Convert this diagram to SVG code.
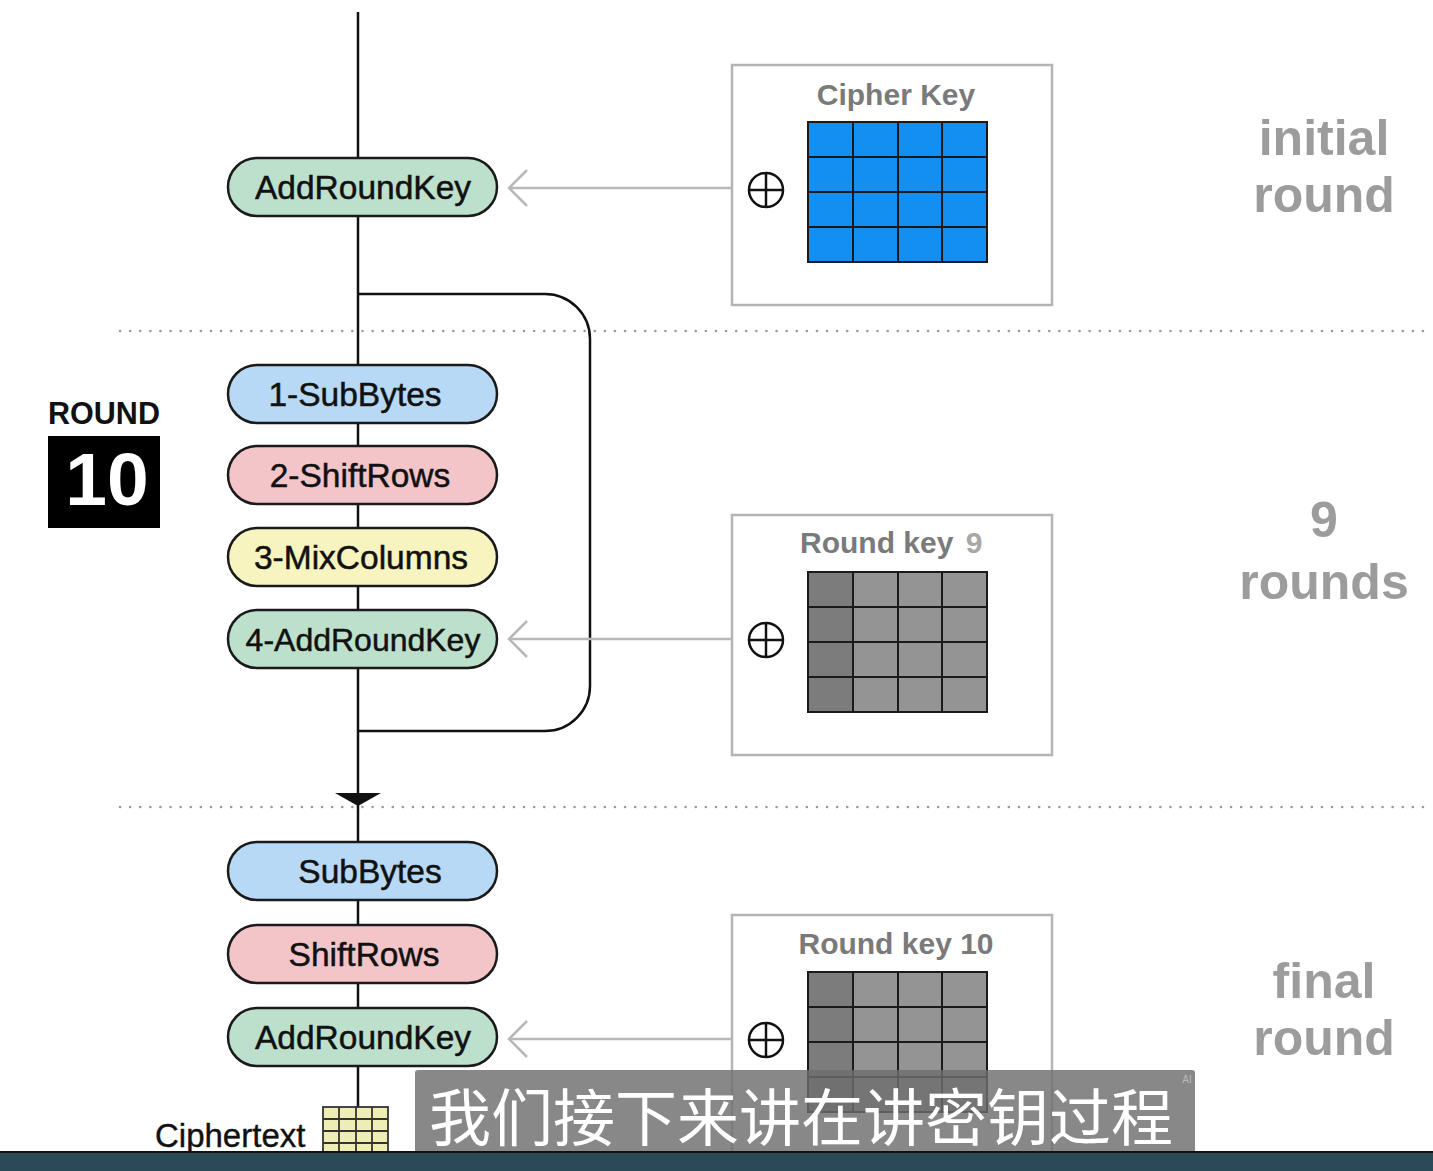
<svg xmlns="http://www.w3.org/2000/svg" width="1433" height="1171" viewBox="0 0 1433 1171">
<style>
.pill{stroke:#1a1a1a;stroke-width:2.5}
.pt{font-family:"Liberation Sans",Arial,sans-serif;font-size:33.5px;fill:#111;text-anchor:middle;stroke:#111;stroke-width:0.5}
.kbox{fill:#fff;stroke:#b4b4b4;stroke-width:2.5}
.klbl{font-family:"Liberation Sans",Arial,sans-serif;font-size:30px;font-weight:bold;fill:#7a7a7a;text-anchor:middle}
.side{font-family:"Liberation Sans",Arial,sans-serif;font-size:50px;font-weight:bold;fill:#9c9c9c;text-anchor:middle}
.dot{stroke:#9a9a9a;stroke-width:2.5;stroke-dasharray:0.1 10;stroke-linecap:round}
.conn{stroke:#111;stroke-width:2.5;fill:none}
.karrow{stroke:#b8b8b8;stroke-width:2.5;fill:none}
.grid{stroke:#1a1a1a;stroke-width:2;fill:none}
.xor{stroke:#111;stroke-width:2.5;fill:none}
</style>
<defs>
<g id="xorSym"><circle cx="0" cy="0" r="17" class="xor"/><line x1="-17" y1="0" x2="17" y2="0" class="xor"/><line x1="0" y1="-17" x2="0" y2="17" class="xor"/></g>
<g id="gridLines">
<rect x="0" y="0" width="179" height="140" class="grid"/>
<line x1="45" y1="0" x2="45" y2="140" class="grid"/><line x1="90" y1="0" x2="90" y2="140" class="grid"/><line x1="134" y1="0" x2="134" y2="140" class="grid"/>
<line x1="0" y1="35" x2="179" y2="35" class="grid"/><line x1="0" y1="70" x2="179" y2="70" class="grid"/><line x1="0" y1="105" x2="179" y2="105" class="grid"/>
</g>
<g id="grayGrid">
<rect x="0" y="0" width="179" height="140" fill="#949494"/>
<rect x="0" y="0" width="45" height="140" fill="#7c7c7c"/>
<use href="#gridLines"/>
</g>
</defs>
<rect width="1433" height="1171" fill="#fff"/>

<!-- dotted separators -->
<line x1="120" y1="331" x2="1433" y2="331" class="dot"/>
<line x1="120" y1="807" x2="1433" y2="807" class="dot"/>

<g id="connectors">
<line x1="358" y1="12" x2="358" y2="1107" class="conn"/>
<path d="M358 294 H545 A45 45 0 0 1 590 339 V686 A45 45 0 0 1 545 731 H358" class="conn"/>
<polygon points="335,793 381,793 358,806" fill="#111"/>
<line x1="732" y1="188" x2="509" y2="188" class="karrow"/>
<polyline points="527,170 509,188 527,206" class="karrow"/>
<line x1="732" y1="639" x2="509" y2="639" class="karrow"/>
<polyline points="527,621 509,639 527,657" class="karrow"/>
<line x1="732" y1="1039" x2="509" y2="1039" class="karrow"/>
<polyline points="527,1021 509,1039 527,1057" class="karrow"/>
</g>

<g id="n-addroundkey0"><rect x="228" y="158" width="269" height="58" rx="29" fill="#bde0cd" class="pill"/><text x="363" y="199" class="pt">AddRoundKey</text></g>
<g id="n-subbytes1"><rect x="228" y="365" width="269" height="58" rx="29" fill="#b7d9f5" class="pill"/><text x="355" y="406" class="pt">1-SubBytes</text></g>
<g id="n-shiftrows2"><rect x="228" y="446" width="269" height="58" rx="29" fill="#f3c5c9" class="pill"/><text x="360" y="487" class="pt">2-ShiftRows</text></g>
<g id="n-mixcolumns3"><rect x="228" y="528" width="269" height="58" rx="29" fill="#f7f4bf" class="pill"/><text x="361" y="569" class="pt">3-MixColumns</text></g>
<g id="n-addroundkey4"><rect x="228" y="610" width="269" height="58" rx="29" fill="#bde0cd" class="pill"/><text x="363" y="651" class="pt" style="font-size:32px">4-AddRoundKey</text></g>
<g id="n-subbytes"><rect x="228" y="842" width="269" height="58" rx="29" fill="#b7d9f5" class="pill"/><text x="370" y="883" class="pt">SubBytes</text></g>
<g id="n-shiftrows"><rect x="228" y="925" width="269" height="58" rx="29" fill="#f3c5c9" class="pill"/><text x="364" y="966" class="pt">ShiftRows</text></g>
<g id="n-addroundkey"><rect x="228" y="1008" width="269" height="58" rx="29" fill="#bde0cd" class="pill"/><text x="363" y="1049" class="pt">AddRoundKey</text></g>

<g id="round-label">
<text x="104" y="424" font-family="Liberation Sans,Arial,sans-serif" font-size="30.5" font-weight="bold" fill="#111" text-anchor="middle">ROUND</text>
<rect x="48" y="436" width="112" height="92" fill="#000"/>
<text x="107" y="505" font-family="Liberation Sans,Arial,sans-serif" font-size="75" font-weight="bold" fill="#fff" text-anchor="middle">10</text>
</g>

<g id="k-cipher">
<rect x="732" y="65" width="320" height="240" class="kbox"/>
<text x="896" y="105" class="klbl">Cipher Key</text>
<use href="#xorSym" x="766" y="190"/>
<rect x="808" y="122" width="179" height="140" fill="#128ff0"/>
<use href="#gridLines" x="808" y="122"/>
</g>
<g id="k-round9">
<rect x="732" y="515" width="320" height="240" class="kbox"/>
<text x="800" y="553" class="klbl" style="text-anchor:start">Round key</text>
<text x="974" y="553" class="klbl" style="fill:#a8a8a8">9</text>
<use href="#xorSym" x="766" y="640"/>
<use href="#grayGrid" x="808" y="572"/>
</g>
<g id="k-round10">
<rect x="732" y="915" width="320" height="240" class="kbox"/>
<text x="896" y="954" class="klbl">Round key 10</text>
<use href="#xorSym" x="766" y="1040"/>
<use href="#grayGrid" x="808" y="972"/>
</g>

<g id="side-labels">
<text x="1324" y="155" class="side">initial</text>
<text x="1324" y="212" class="side">round</text>
<text x="1324" y="537" class="side">9</text>
<text x="1324" y="599" class="side">rounds</text>
<text x="1324" y="998" class="side">final</text>
<text x="1324" y="1055" class="side">round</text>
</g>

<g id="ciphertext">
<text x="155" y="1147" font-family="Liberation Sans,Arial,sans-serif" font-size="33" fill="#111" stroke="#111" stroke-width="0.4">Ciphertext</text>
<rect x="323" y="1107" width="65" height="48" fill="#eeeeb4"/>
<g stroke="#333" stroke-width="1.8" fill="none">
<rect x="323" y="1107" width="65" height="48"/>
<line x1="339" y1="1107" x2="339" y2="1155"/><line x1="356" y1="1107" x2="356" y2="1155"/><line x1="372" y1="1107" x2="372" y2="1155"/>
<line x1="323" y1="1119" x2="388" y2="1119"/><line x1="323" y1="1131" x2="388" y2="1131"/><line x1="323" y1="1143" x2="388" y2="1143"/>
</g>
</g>

<g id="subtitle">
<rect x="415" y="1070" width="780" height="83" rx="3" fill="#6e6e6e" fill-opacity="0.82"/>
<text x="801" y="1141" font-family="Noto Sans CJK SC,sans-serif" font-size="62" fill="#fff" text-anchor="middle">我们接下来讲在讲密钥过程</text>
<text x="1187" y="1083" font-family="Liberation Sans,Arial,sans-serif" font-size="10" fill="#bbb" text-anchor="middle">AI</text>
</g>
<rect x="0" y="1152" width="1433" height="19" fill="#2b4a57"/>
<line x1="0" y1="1152" x2="1433" y2="1152" stroke="#111" stroke-width="2"/>
</svg>
